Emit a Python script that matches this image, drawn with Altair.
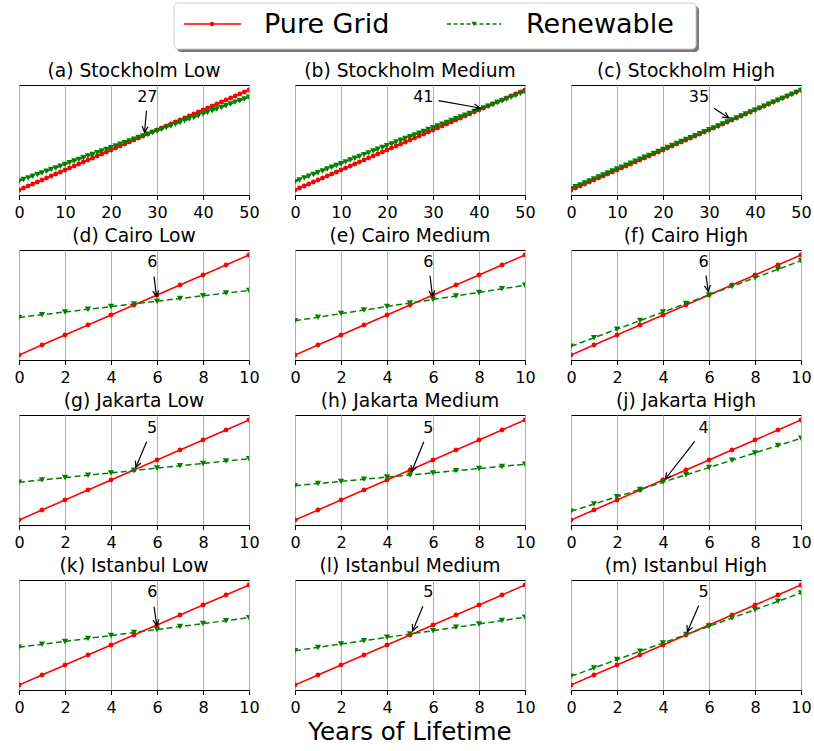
import math
import altair as alt
import pandas as pd

# ---------------- data (arbitrary cost units) ----------------
years_long = [0, 1, 2, 3, 4, 5, 6, 7, 8, 9, 10, 11, 12, 13, 14, 15, 16, 17, 18, 19, 20,
              21, 22, 23, 24, 25, 26, 27, 28, 29, 30, 31, 32, 33, 34, 35, 36, 37, 38, 39, 40,
              41, 42, 43, 44, 45, 46, 47, 48, 49, 50]
years_short = [0, 1, 2, 3, 4, 5, 6, 7, 8, 9, 10]

red_long = [0, 2, 4, 6, 8, 10, 12, 14, 16, 18, 20, 22, 24, 26, 28, 30, 32, 34, 36, 38, 40,
            42, 44, 46, 48, 50, 52, 54, 56, 58, 60, 62, 64, 66, 68, 70, 72, 74, 76, 78, 80,
            82, 84, 86, 88, 90, 92, 94, 96, 98, 100]
red_short = [0, 10, 20, 30, 40, 50, 60, 70, 80, 90, 100]

green_a = [8.7, 10.4, 12.1, 13.7, 15.4, 17.1, 18.8, 20.5, 22.1, 23.8, 25.5, 27.2, 28.9, 30.5,
           32.2, 33.9, 35.6, 37.3, 38.9, 40.6, 42.3, 44.0, 45.7, 47.3, 49.0, 50.7, 52.4, 54.1,
           55.7, 57.4, 59.1, 60.8, 62.5, 64.1, 65.8, 67.5, 69.2, 70.9, 72.5, 74.2, 75.9, 77.6,
           79.3, 80.9, 82.6, 84.3, 86.0, 87.7, 89.3, 91.0, 92.7]
green_b = [8.3, 10.1, 11.9, 13.7, 15.5, 17.3, 19.1, 20.9, 22.7, 24.5, 26.3, 28.1, 29.9, 31.7,
           33.5, 35.3, 37.1, 38.9, 40.7, 42.5, 44.3, 46.1, 47.9, 49.7, 51.5, 53.3, 55.1, 56.8,
           58.6, 60.4, 62.2, 64.0, 65.8, 67.6, 69.4, 71.2, 73.0, 74.8, 76.6, 78.4, 80.2, 82.0,
           83.8, 85.6, 87.4, 89.2, 91.0, 92.8, 94.6, 96.4, 98.2]
green_c = [1.2, 3.2, 5.1, 7.1, 9.1, 11.0, 13.0, 15.0, 16.9, 18.9, 20.9, 22.8, 24.8, 26.8,
           28.7, 30.7, 32.7, 34.6, 36.6, 38.6, 40.5, 42.5, 44.5, 46.4, 48.4, 50.4, 52.3, 54.3,
           56.2, 58.2, 60.2, 62.1, 64.1, 66.1, 68.0, 70.0, 72.0, 73.9, 75.9, 77.9, 79.8, 81.8,
           83.8, 85.7, 87.7, 89.7, 91.6, 93.6, 95.6, 97.5, 99.5]
green_d = [37.6, 40.3, 43.0, 45.7, 48.4, 51.1, 53.8, 56.5, 59.2, 61.9, 64.6]
green_e = [34.3, 37.8, 41.4, 44.9, 48.5, 52.0, 55.5, 59.1, 62.6, 66.2, 69.7]
green_f = [8.7, 17.3, 25.8, 34.4, 42.9, 51.5, 60.1, 68.6, 77.2, 85.7, 94.3]
green_g = [37.7, 40.1, 42.4, 44.8, 47.1, 49.5, 51.9, 54.2, 56.6, 58.9, 61.3]
green_h = [34.3, 36.4, 38.6, 40.7, 42.9, 45.0, 47.1, 49.3, 51.4, 53.6, 55.7]
green_j = [8.7, 16.0, 23.3, 30.6, 37.9, 45.2, 52.5, 59.8, 67.1, 74.4, 81.7]
green_k = [37.7, 40.7, 43.6, 46.6, 49.5, 52.5, 55.5, 58.4, 61.4, 64.3, 67.3]
green_l = [34.3, 37.6, 41.0, 44.3, 47.7, 51.0, 54.3, 57.7, 61.0, 64.4, 67.7]
green_m = [8.7, 17.0, 25.4, 33.7, 42.0, 50.4, 58.7, 67.0, 75.3, 83.7, 92.0]

greens = [green_a, green_b, green_c, green_d, green_e, green_f,
          green_g, green_h, green_j, green_k, green_l, green_m]

titles = ["(a) Stockholm Low", "(b) Stockholm Medium", "(c) Stockholm High",
          "(d) Cairo Low", "(e) Cairo Medium", "(f) Cairo High",
          "(g) Jakarta Low", "(h) Jakarta Medium", "(j) Jakarta High",
          "(k) Istanbul Low", "(l) Istanbul Medium", "(m) Istanbul High"]

# break-even annotations
ann_labels = ["27", "41", "35", "6", "6", "6", "5", "5", "4", "6", "5", "5"]
ann_text_x = [27.9, 27.9, 27.8, 5.8, 5.8, 5.77, 5.79, 5.8, 5.77, 5.8, 5.8, 5.77]
ann_text_y = [92.7, 92.7, 92.7, 92.6, 92.7, 92.7, 91.7, 91.7, 92.0, 92.7, 92.7, 92.7]
ann_tail_x = [27.7, 31.2, 31.1, 5.87, 5.87, 5.87, 5.55, 5.6, 5.38, 5.87, 5.56, 5.55]
ann_tail_y = [79.3, 89.3, 81.7, 78.3, 79.3, 79.3, 78.3, 78.3, 78.7, 78.3, 78.7, 79.3]
ann_tip_x = [27.3, 40.2, 34.3, 5.98, 5.98, 5.97, 5.08, 5.07, 4.1, 5.99, 5.12, 5.06]
ann_tip_y = [57.7, 82.0, 72.0, 58.3, 58.3, 63.7, 52.7, 48.3, 41.0, 59.3, 54.3, 53.3]

series_names = ["Pure Grid", "Renewable"]
x_title = "Years of Lifetime"

# ---------------- layout / style ----------------
W, H = 230, 110
Y_DOMAIN = [-5, 105]
FONT = "DejaVu Sans"
RED = "#ff0000"
GREEN = "#008000"
ARROW_PATH = "M -0.5 1 L 0 0 L 0.5 1"


def legend_layers():
    df = pd.DataFrame({"series": series_names})
    base = alt.Chart(df)
    one = base.transform_filter(alt.datum.series == series_names[0])
    two = base.transform_filter(alt.datum.series == series_names[1])
    # legend placed relative to panel (b)'s plot origin
    shadow = one.mark_rect(color="#7a7a7a", cornerRadius=4).encode(
        x=alt.value(-118), x2=alt.value(404), y=alt.value(-79), y2=alt.value(-33))
    box = one.mark_rect(fill="white", stroke="#cccccc", strokeWidth=1, cornerRadius=4).encode(
        x=alt.value(-121), x2=alt.value(401), y=alt.value(-82), y2=alt.value(-36))
    l1 = one.mark_rule(color=RED, strokeWidth=1.5).encode(
        x=alt.value(-111), x2=alt.value(-54), y=alt.value(-61))
    p1 = one.mark_point(shape="circle", filled=True, color=RED, size=20, opacity=1).encode(
        x=alt.value(-83), y=alt.value(-61))
    t1 = one.mark_text(align="left", baseline="middle", fontSize=27, font=FONT, color="black").encode(
        x=alt.value(-31), y=alt.value(-60), text="series:N")
    l2 = two.mark_rule(color=GREEN, strokeWidth=1.5, strokeDash=[4, 2.5]).encode(
        x=alt.value(152), x2=alt.value(206), y=alt.value(-61))
    p2 = two.mark_point(shape="triangle-down", filled=True, color=GREEN, size=28, opacity=1).encode(
        x=alt.value(179), y=alt.value(-61))
    t2 = two.mark_text(align="left", baseline="middle", fontSize=27, font=FONT, color="black").encode(
        x=alt.value(231), y=alt.value(-60), text="series:N")
    return [shadow, box, l1, p1, t1, l2, p2, t2]


def panel(i):
    long = i < 3
    xs = years_long if long else years_short
    red = red_long if long else red_short
    green = greens[i]
    xmax = 50 if long else 10
    step = 10 if long else 2
    ticks = [v for v in xs if v % step == 0]

    df = pd.DataFrame({
        "year": xs + xs,
        "value": red + green,
        "series": [series_names[0]] * len(xs) + [series_names[1]] * len(xs),
    })
    x = alt.X("year:Q", title=None,
              scale=alt.Scale(domain=[0, xmax], nice=False, zero=False),
              axis=alt.Axis(values=ticks, grid=True, labelFlush=False, labelOverlap=False,
                            format="d"))
    y = alt.Y("value:Q", scale=alt.Scale(domain=Y_DOMAIN, nice=False), axis=None)

    base = alt.Chart(df)
    red_df = base.transform_filter(alt.datum.series == series_names[0])
    green_df = base.transform_filter(alt.datum.series == series_names[1])

    red_line = red_df.mark_line(color=RED, strokeWidth=1.5, clip=True).encode(x=x, y=y)
    red_pts = red_df.mark_point(shape="circle", filled=True, color=RED, size=24, opacity=1,
                                clip=True).encode(x=x, y=y)
    green_line = green_df.mark_line(color=GREEN, strokeWidth=1.5, strokeDash=[6, 3.3],
                                    clip=True).encode(x=x, y=y)
    green_pts = green_df.mark_point(shape="triangle-down", filled=True, color=GREEN, size=40,
                                    opacity=1, clip=True).encode(x=x, y=y)

    ann_df = pd.DataFrame({
        "label": [ann_labels[i]],
        "tx": [ann_text_x[i]], "ty": [ann_text_y[i]],
        "sx": [ann_tail_x[i]], "sy": [ann_tail_y[i]],
        "ex": [ann_tip_x[i]], "ey": [ann_tip_y[i]],
    })
    sx_scale = alt.Scale(domain=[0, xmax], nice=False, zero=False)
    sy_scale = alt.Scale(domain=Y_DOMAIN, nice=False)
    abase = alt.Chart(ann_df)
    dx = (ann_tip_x[i] - ann_tail_x[i]) * W / xmax
    dy = -(ann_tip_y[i] - ann_tail_y[i]) * H / (Y_DOMAIN[1] - Y_DOMAIN[0])
    ang = math.degrees(math.atan2(dx, -dy)) % 360

    ann_text = abase.mark_text(fontSize=16, font=FONT, color="black", baseline="middle",
                               align="center").encode(
        x=alt.X("tx:Q", scale=sx_scale), y=alt.Y("ty:Q", scale=sy_scale), text="label:N")
    ann_line = abase.mark_rule(color="black", strokeWidth=1.2).encode(
        x=alt.X("sx:Q", scale=sx_scale), y=alt.Y("sy:Q", scale=sy_scale),
        x2="ex:Q", y2="ey:Q")
    ann_head = abase.mark_point(shape=ARROW_PATH, filled=False, color="black", strokeWidth=1.2,
                                size=144, opacity=1, angle=ang).encode(
        x=alt.X("ex:Q", scale=sx_scale), y=alt.Y("ey:Q", scale=sy_scale))

    title_layer = alt.Chart(pd.DataFrame({"t": [titles[i]]})).mark_text(
        fontSize=18.7, font=FONT, color="black", baseline="alphabetic", align="center"
    ).encode(x=alt.value(W / 2), y=alt.value(-8), text="t:N")

    layers = [red_line, green_line, red_pts, green_pts, ann_line, ann_head, ann_text, title_layer]
    if i == 1:
        layers += legend_layers()
    if i == 10:
        layers.append(
            alt.Chart(pd.DataFrame({"t": [x_title]})).mark_text(
                fontSize=24.5, font=FONT, color="black", baseline="middle", align="center"
            ).encode(x=alt.value(W / 2), y=alt.value(153), text="t:N"))

    return alt.layer(*layers).properties(width=W, height=H)


panels = [panel(i) for i in range(12)]

chart = alt.concat(*panels, columns=3, spacing={"row": 55, "column": 46}, bounds="flush").properties(
    padding={"left": 13, "top": 2, "right": 0, "bottom": 0},
    background="white",
).configure_view(
    stroke="black", strokeWidth=1
).configure_axis(
    domainColor="black", domainWidth=1, tickColor="black", tickSize=4.5, tickWidth=1,
    labelColor="black", labelFont=FONT, labelFontSize=16, labelPadding=5,
    gridColor="#b0b0b0", gridWidth=1,
)

chart.save("out.html", embed_options={"renderer": "svg", "actions": False})
